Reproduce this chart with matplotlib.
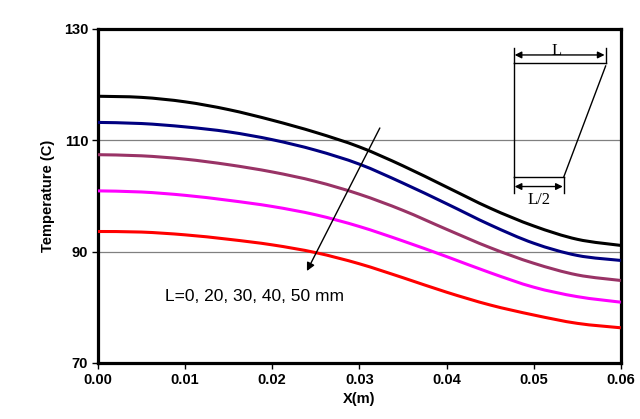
import numpy as np
import matplotlib
matplotlib.use("Agg")
import matplotlib.pyplot as plt
from matplotlib.path import Path
from matplotlib.patches import PathPatch

# position along the fin (m)
x_m = [0.0, 0.005, 0.01, 0.015, 0.02, 0.025, 0.03, 0.035, 0.04, 0.045, 0.05, 0.055, 0.06]

# temperature (C), one curve per L
t_L0 = [117.9, 117.7, 116.9, 115.5, 113.6, 111.4, 108.8, 105.4, 101.6, 97.8, 94.6, 92.2, 91.1]
t_L20 = [113.2, 113.0, 112.4, 111.5, 110.1, 108.2, 105.7, 102.3, 98.6, 94.8, 91.5, 89.3, 88.4]
t_L30 = [107.4, 107.2, 106.6, 105.6, 104.3, 102.6, 100.3, 97.4, 94.0, 90.7, 87.9, 85.8, 84.8]
t_L40 = [100.9, 100.7, 100.1, 99.2, 98.1, 96.6, 94.5, 91.9, 89.1, 86.2, 83.6, 81.9, 80.9]
t_L50 = [93.6, 93.5, 93.0, 92.2, 91.2, 89.8, 87.8, 85.3, 82.7, 80.4, 78.6, 77.1, 76.3]

series = [t_L0, t_L20, t_L30, t_L40, t_L50]
colors = ["#000000", "#000080", "#993366", "#FF00FF", "#FF0000"]


def smooth_path(xs, ys):
    # Excel-style smoothed line: Catmull-Rom segments drawn as cubic Beziers
    p = np.column_stack([xs, ys])
    q = np.vstack([p[0], p, p[-1]])
    verts = [p[0]]
    codes = [Path.MOVETO]
    for i in range(len(p) - 1):
        a, b, c, d = q[i], q[i + 1], q[i + 2], q[i + 3]
        verts += [b + (c - a) / 6, c - (d - b) / 6, c]
        codes += [Path.CURVE4] * 3
    return Path(verts, codes)


plt.rcParams["font.family"] = ["Liberation Sans", "DejaVu Sans"]

fig = plt.figure(figsize=(6.4, 4.19), dpi=100)
ax = fig.add_axes([0.153, 0.134, 0.817, 0.797])

for ys, c in zip(series, colors):
    ax.add_patch(PathPatch(smooth_path(x_m, ys), fill=False, edgecolor=c,
                           lw=2.2, capstyle="butt", zorder=3))

ax.set_xlim(0, 0.06)
ax.set_ylim(70, 130)
ax.set_xticks(np.arange(0, 0.061, 0.01))
ax.set_yticks([70, 90, 110, 130])
ax.xaxis.set_major_formatter(matplotlib.ticker.FormatStrFormatter("%.2f"))
ax.grid(axis="y", color="#808080", lw=0.9)
ax.set_axisbelow(True)
for s in ax.spines.values():
    s.set_linewidth(2.3)
ax.tick_params(direction="out", length=4, width=1, pad=3)
for lab in ax.get_xticklabels() + ax.get_yticklabels():
    lab.set_fontweight("bold")
    lab.set_fontsize(10.5)
ax.set_xlabel("X(m)", fontweight="bold", fontsize=10.5, labelpad=4)
ax.set_ylabel("Temperature (C)", fontweight="bold", fontsize=10.5, labelpad=6)

# direction of increasing L
ax.annotate("", xy=(0.02398, 86.5), xytext=(0.03235, 112.2),
            arrowprops=dict(arrowstyle="-|>", color="black", lw=1.0,
                            mutation_scale=12, shrinkA=0, shrinkB=0))
ax.text(0.0077, 81.9, "L=0, 20, 30, 40, 50 mm", fontsize=12.5, va="center", ha="left")

# fin sketch (axes fraction)
tr = ax.transAxes
k = dict(color="black", lw=1.0, transform=tr, clip_on=False)
ax.plot([0.795, 0.971], [0.898, 0.898], **k)
ax.plot([0.795, 0.795], [0.898, 0.557], **k)
ax.plot([0.971, 0.891], [0.889, 0.557], **k)
ax.plot([0.795, 0.891], [0.557, 0.557], **k)
ax.plot([0.795, 0.795], [0.943, 0.898], **k)
ax.plot([0.971, 0.971], [0.943, 0.898], **k)
ax.plot([0.795, 0.795], [0.557, 0.509], **k)
ax.plot([0.891, 0.891], [0.557, 0.509], **k)
ap = dict(arrowstyle="<|-|>", color="black", lw=1.0, mutation_scale=10, shrinkA=0, shrinkB=0)
ax.annotate("", xy=(0.969, 0.922), xytext=(0.797, 0.922), xycoords=tr, textcoords=tr, arrowprops=ap)
ax.annotate("", xy=(0.889, 0.528), xytext=(0.797, 0.528), xycoords=tr, textcoords=tr, arrowprops=ap)
ax.text(0.878, 0.935, "L", transform=tr, ha="center", va="center", fontsize=12,
        family=["Liberation Serif", "DejaVu Serif"])
ax.text(0.843, 0.488, "L/2", transform=tr, ha="center", va="center", fontsize=12,
        family=["Liberation Serif", "DejaVu Serif"])

fig.savefig("out.png", dpi=100)
